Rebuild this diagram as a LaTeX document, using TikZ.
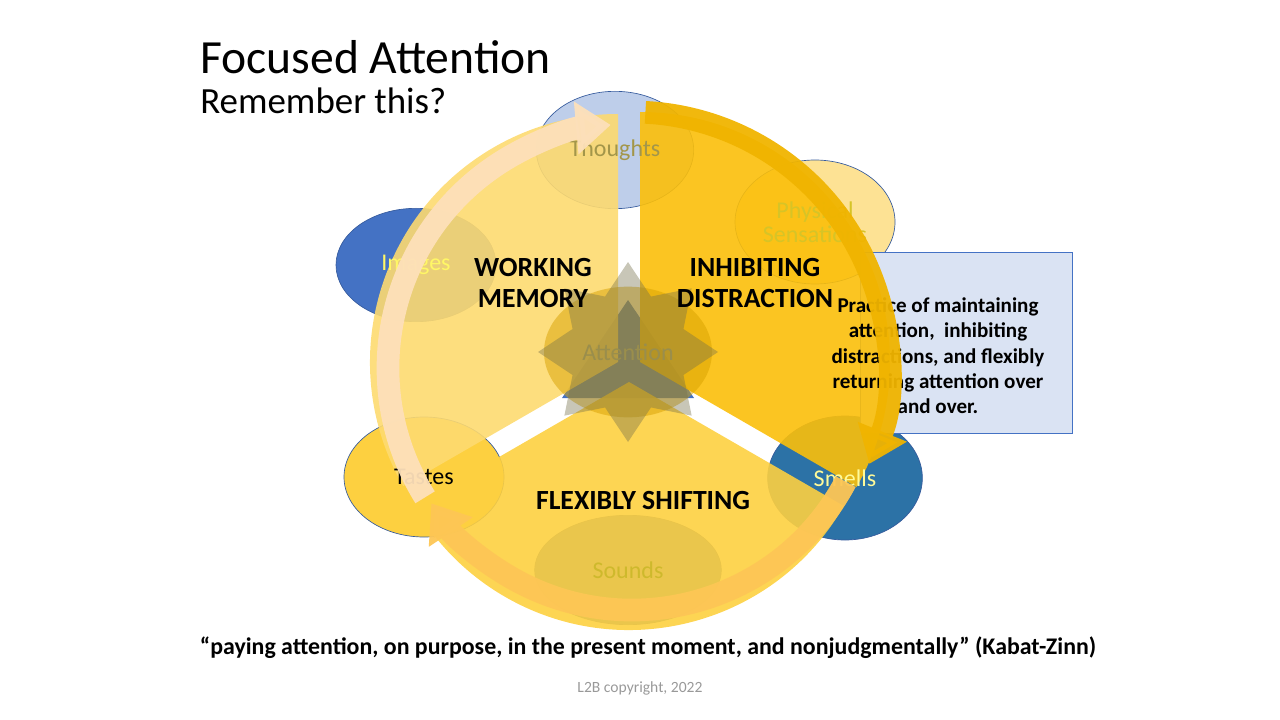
\documentclass[tikz,border=0pt]{standalone}
\usepackage{fontspec}
\setmainfont{Carlito}
\usetikzlibrary{shapes.geometric,arrows.meta}
\definecolor{wm}{HTML}{FDDA70}
\definecolor{idc}{HTML}{FBBF0A}
\definecolor{fs}{HTML}{FDD040}
\definecolor{peach}{HTML}{FDE0BA}
\definecolor{gold}{HTML}{F0B400}
\definecolor{orng}{HTML}{FDC655}
\definecolor{boxc}{HTML}{DAE3F3}
\definecolor{bl}{HTML}{4472C4}
\begin{document}
\begin{tikzpicture}[x=0.75pt,y=-0.75pt,
  sense/.style={ellipse,draw=bl!80!black,line width=0.5pt,inner sep=0pt},
  lbl/.style={font=\fontsize{18}{18}\selectfont},
  big/.style={font=\bfseries\fontsize{20.8}{23}\selectfont,align=center},
  arc/.style={line width=17pt,opacity=0.95}]
\useasboundingbox (0,0) rectangle (1280,720);
% title
\node[anchor=west,font=\fontsize{35.7}{36}\selectfont,inner sep=0pt] (t1) at (200,57) {Focused Attention};
\node[anchor=west,font=\fontsize{27.7}{28}\selectfont,inner sep=0pt] (t2) at (200,101) {Remember this?};
% senses
\node[sense,fill=bl!35!white,minimum width=118pt,minimum height=88pt] (th) at (615,150) {};
\node[sense,fill=yellow!50!orange!40,minimum width=120pt,minimum height=93pt] (ps) at (815,222) {};
\node[sense,fill=bl,minimum width=120pt,minimum height=85pt] (im) at (416,265) {};
\node[sense,fill=fs,minimum width=120pt,minimum height=90pt] (ta) at (424,477) {};
\node[sense,fill=bl!80!cyan!80!black,minimum width=116pt,minimum height=93pt] (sm) at (845,478) {};
\node[sense,fill=bl,minimum width=140pt,minimum height=82pt] (so) at (628,570) {};
% box
\node[draw=bl,fill=boxc,minimum width=159pt,minimum height=136pt,anchor=north west] (bx) at (860,252) {};
% blue Y
\fill[bl] (562,398) -- (628,300) -- (694,398) -- cycle;
% sectors
\fill[wm,opacity=0.9] (618,362) -- ++(150:248) arc[start angle=150,end angle=270,radius=248] -- cycle;
\fill[idc,opacity=0.9] (640,362) -- ++(-90:250) arc[start angle=-90,end angle=30,radius=250] -- cycle;
\fill[fs,opacity=0.9] (629,382) -- ++(30:248) arc[start angle=30,end angle=150,radius=248] -- cycle;
% attention
\node[ellipse,fill=gold!90!black,opacity=0.5,minimum width=126pt,minimum height=98pt] (at) at (628,352) {};
\node[star,star points=8,star point ratio=1.5,fill=black!40!olive!60!gray,opacity=0.4,minimum size=135pt,inner sep=0pt] (st) at (628,352) {};
% labels
\node[lbl,text=black!45!yellow!80!brown] at (th) {Thoughts};
\node[lbl,text=black!20!yellow!90!orange,align=center] at (ps) {Physical\\Sensations};
\node[lbl,text=yellow!60!white] at (im) {Images};
\node[lbl] at (ta) {Tastes};
\node[lbl,text=yellow!40!white] at (sm) {Smells};
\node[lbl,text=black!25!yellow!85!orange] at (so) {Sounds};
\node[lbl,text=black!50!yellow!80!brown] at (628,352) {Attention};
\node[big] at (533,283) {WORKING\\MEMORY};
\node[big] at (755,283) {INHIBITING\\DISTRACTION};
\node[big] at (643,500) {FLEXIBLY SHIFTING};
\node[font=\bfseries\fontsize{15.8}{19}\selectfont,align=center] at (938,356) {Practice of maintaining\\attention,\ \ inhibiting\\distractions, and flexibly\\returning attention over\\and over.};
% arrows
\coordinate (c) at (632,368);
\draw[arc,peach,-{Triangle[length=26pt,width=38pt]}] ([shift={(148:244)}]c) arc[start angle=148,end angle=265,radius=244];
\draw[arc,gold,-{Triangle[length=26pt,width=38pt]}] ([shift={(-87:256)}]c) arc[start angle=-87,end angle=22,radius=256];
\draw[arc,orng,-{Triangle[length=26pt,width=38pt]}] ([shift={(28:242)}]c) arc[start angle=28,end angle=146,radius=242];
% footer
\node[font=\bfseries\fontsize{17.9}{18}\selectfont] (q) at (648,648) {“paying attention, on purpose, in the present moment, and nonjudgmentally” (Kabat-Zinn)};
\node[font=\fontsize{11.7}{12}\selectfont,text=gray!80] (cp) at (640,688) {L2B copyright, 2022};
\end{tikzpicture}
\end{document}
